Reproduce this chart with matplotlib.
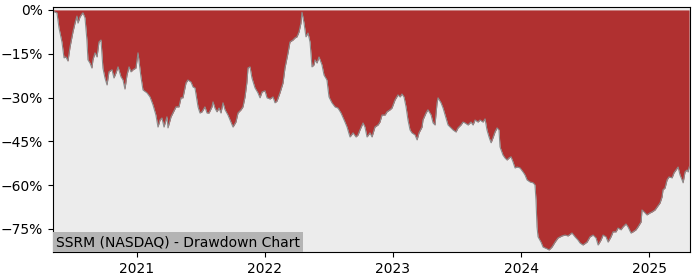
import numpy as np
import matplotlib
matplotlib.use("Agg")
import matplotlib.pyplot as plt
from matplotlib.ticker import PercentFormatter

# time as decimal years, drawdown in percent
years = [2020.344, 2020.352, 2020.375, 2020.391, 2020.414, 2020.430, 2020.445, 2020.461, 2020.477, 2020.500,
         2020.516, 2020.531, 2020.539, 2020.555, 2020.570, 2020.578, 2020.594, 2020.609, 2020.617, 2020.633,
         2020.648, 2020.656, 2020.672, 2020.688, 2020.703, 2020.719, 2020.734, 2020.750, 2020.766, 2020.781,
         2020.805, 2020.820, 2020.836, 2020.852, 2020.875, 2020.891, 2020.906, 2020.922, 2020.938, 2020.953,
         2020.969, 2020.992, 2021.008, 2021.031, 2021.047, 2021.078, 2021.102, 2021.125, 2021.148, 2021.164,
         2021.180, 2021.195, 2021.211, 2021.234, 2021.242, 2021.266, 2021.281, 2021.305, 2021.328, 2021.344,
         2021.359, 2021.383, 2021.398, 2021.422, 2021.438, 2021.453, 2021.477, 2021.492, 2021.508, 2021.531,
         2021.547, 2021.563, 2021.586, 2021.594, 2021.609, 2021.625, 2021.641, 2021.656, 2021.672, 2021.688,
         2021.711, 2021.734, 2021.750, 2021.773, 2021.789, 2021.813, 2021.828, 2021.844, 2021.859, 2021.867,
         2021.883, 2021.898, 2021.922, 2021.945, 2021.961, 2021.977, 2022.000, 2022.016, 2022.039, 2022.063,
         2022.078, 2022.094, 2022.117, 2022.141, 2022.156, 2022.180, 2022.195, 2022.219, 2022.234, 2022.250,
         2022.266, 2022.281, 2022.289, 2022.305, 2022.320, 2022.336, 2022.352, 2022.367, 2022.383, 2022.391,
         2022.406, 2022.422, 2022.445, 2022.461, 2022.484, 2022.500, 2022.523, 2022.547, 2022.570, 2022.594,
         2022.625, 2022.641, 2022.664, 2022.688, 2022.711, 2022.727, 2022.742, 2022.766, 2022.781, 2022.797,
         2022.820, 2022.836, 2022.859, 2022.883, 2022.898, 2022.914, 2022.938, 2022.953, 2022.977, 2022.992,
         2023.016, 2023.039, 2023.055, 2023.070, 2023.086, 2023.102, 2023.117, 2023.133, 2023.148, 2023.172,
         2023.188, 2023.203, 2023.227, 2023.234, 2023.258, 2023.273, 2023.297, 2023.313, 2023.328, 2023.344,
         2023.352, 2023.375, 2023.391, 2023.414, 2023.430, 2023.453, 2023.469, 2023.492, 2023.508, 2023.531,
         2023.547, 2023.563, 2023.586, 2023.609, 2023.625, 2023.641, 2023.664, 2023.680, 2023.703, 2023.719,
         2023.734, 2023.750, 2023.766, 2023.781, 2023.797, 2023.813, 2023.828, 2023.836, 2023.859, 2023.875,
         2023.891, 2023.906, 2023.922, 2023.938, 2023.953, 2023.969, 2023.992, 2024.016, 2024.031, 2024.047,
         2024.070, 2024.094, 2024.109, 2024.117, 2024.125, 2024.133, 2024.156, 2024.172, 2024.203, 2024.219,
         2024.242, 2024.266, 2024.289, 2024.320, 2024.344, 2024.367, 2024.398, 2024.422, 2024.445, 2024.461,
         2024.484, 2024.516, 2024.539, 2024.563, 2024.586, 2024.602, 2024.625, 2024.641, 2024.664, 2024.680,
         2024.703, 2024.719, 2024.742, 2024.758, 2024.781, 2024.797, 2024.820, 2024.836, 2024.859, 2024.875,
         2024.898, 2024.914, 2024.938, 2024.945, 2024.969, 2024.984, 2025.008, 2025.023, 2025.047, 2025.063,
         2025.086, 2025.102, 2025.109, 2025.125, 2025.141, 2025.156, 2025.180, 2025.195, 2025.211, 2025.227,
         2025.242, 2025.258, 2025.266, 2025.281, 2025.297, 2025.305, 2025.313]

drawdown = [0.0, -0.6, -1.0, -6.2, -11.0, -16.4, -16.1, -17.5, -12.7, -7.5,
            -4.5, -2.1, -4.5, -2.4, -1.4, -1.0, -2.7, -10.3, -17.1, -18.2,
            -19.9, -17.1, -14.7, -16.1, -11.0, -10.3, -19.9, -23.3, -25.7, -21.2,
            -20.5, -23.3, -21.6, -19.5, -22.9, -24.0, -27.1, -22.3, -19.5, -21.2,
            -20.5, -19.9, -14.7, -22.9, -27.4, -28.4, -29.8, -32.5, -36.0, -40.1,
            -37.7, -37.0, -40.1, -36.6, -40.4, -36.6, -35.3, -33.2, -33.2, -30.1,
            -30.1, -25.0, -24.0, -24.7, -26.4, -26.7, -33.2, -35.3, -34.9, -33.2,
            -35.3, -35.3, -33.2, -31.5, -33.6, -34.9, -33.6, -35.3, -31.8, -34.2,
            -36.0, -38.4, -40.1, -38.4, -35.3, -34.2, -33.2, -29.8, -24.7, -19.9,
            -19.5, -23.3, -26.7, -28.4, -30.1, -28.1, -27.7, -30.1, -30.5, -29.8,
            -31.8, -31.2, -28.4, -25.0, -19.9, -14.7, -11.0, -10.3, -9.6, -9.2,
            -7.5, -4.5, -0.8, -4.5, -9.2, -7.9, -11.0, -19.5, -18.8, -17.1,
            -18.2, -16.1, -18.8, -22.3, -24.0, -29.8, -31.8, -33.2, -33.6, -35.3,
            -38.4, -40.1, -43.5, -42.1, -43.5, -42.8, -41.1, -38.7, -40.1, -43.5,
            -42.1, -43.5, -40.1, -39.4, -38.4, -36.0, -36.0, -34.9, -34.2, -33.6,
            -30.8, -29.1, -29.8, -28.8, -29.8, -33.2, -37.7, -41.1, -42.1, -42.8,
            -44.5, -42.1, -40.1, -37.7, -35.3, -34.2, -35.9, -38.7, -39.4, -31.8,
            -30.1, -31.8, -33.6, -37.0, -39.4, -40.4, -41.1, -41.8, -40.4, -39.4,
            -38.4, -38.7, -39.4, -38.4, -39.4, -37.7, -38.4, -37.7, -38.4, -37.3,
            -41.1, -43.5, -45.5, -43.8, -41.8, -40.4, -41.1, -46.9, -49.7, -50.7,
            -51.4, -50.7, -50.3, -52.1, -54.1, -53.8, -54.1, -55.5, -56.5, -58.2,
            -58.9, -59.2, -59.9, -65.1, -74.3, -77.7, -79.5, -81.2, -81.8, -82.2,
            -81.2, -79.5, -78.1, -77.4, -77.1, -77.4, -76.4, -77.7, -78.8, -79.8,
            -80.5, -79.5, -77.7, -77.1, -78.1, -80.5, -78.8, -77.1, -77.7, -79.5,
            -77.7, -76.0, -76.0, -74.7, -75.3, -74.3, -73.3, -74.3, -76.4, -76.0,
            -75.3, -74.3, -72.6, -68.5, -69.5, -70.2, -69.5, -69.2, -68.5, -67.5,
            -66.1, -64.0, -61.6, -61.0, -58.2, -57.2, -57.5, -55.8, -54.8, -53.8,
            -56.5, -58.2, -59.2, -55.5, -54.8, -55.5, -53.8]

year_ticks = [2021, 2022, 2023, 2024, 2025]
pct_ticks = [0, -15, -30, -45, -60, -75]
title = "SSRM (NASDAQ) - Drawdown Chart"

x = np.array(years)
dd = np.array(drawdown)

fig = plt.figure(figsize=(7, 2.8), dpi=100)
ax = fig.add_axes([0.0757, 0.1, 0.91, 0.875])
ax.set_facecolor("#ececec")

ax.fill_between(x, dd, 0, color="#b03030", linewidth=0)
ax.plot(x, dd, color="#8c8c8c", linewidth=0.8)

ax.set_xlim(2020.344, 2025.32)
ax.set_ylim(-82.9, 1.0)
ax.set_xticks(year_ticks)
ax.set_xticklabels([str(y) for y in year_ticks])
ax.set_yticks(pct_ticks)
ax.yaxis.set_major_formatter(PercentFormatter(decimals=0))

ax.text(0.005, 0.012, title, transform=ax.transAxes, fontsize=10,
        ha="left", va="bottom",
        bbox=dict(facecolor="#b4b4b4", edgecolor="none", pad=2))

fig.savefig("out.png", dpi=100)
